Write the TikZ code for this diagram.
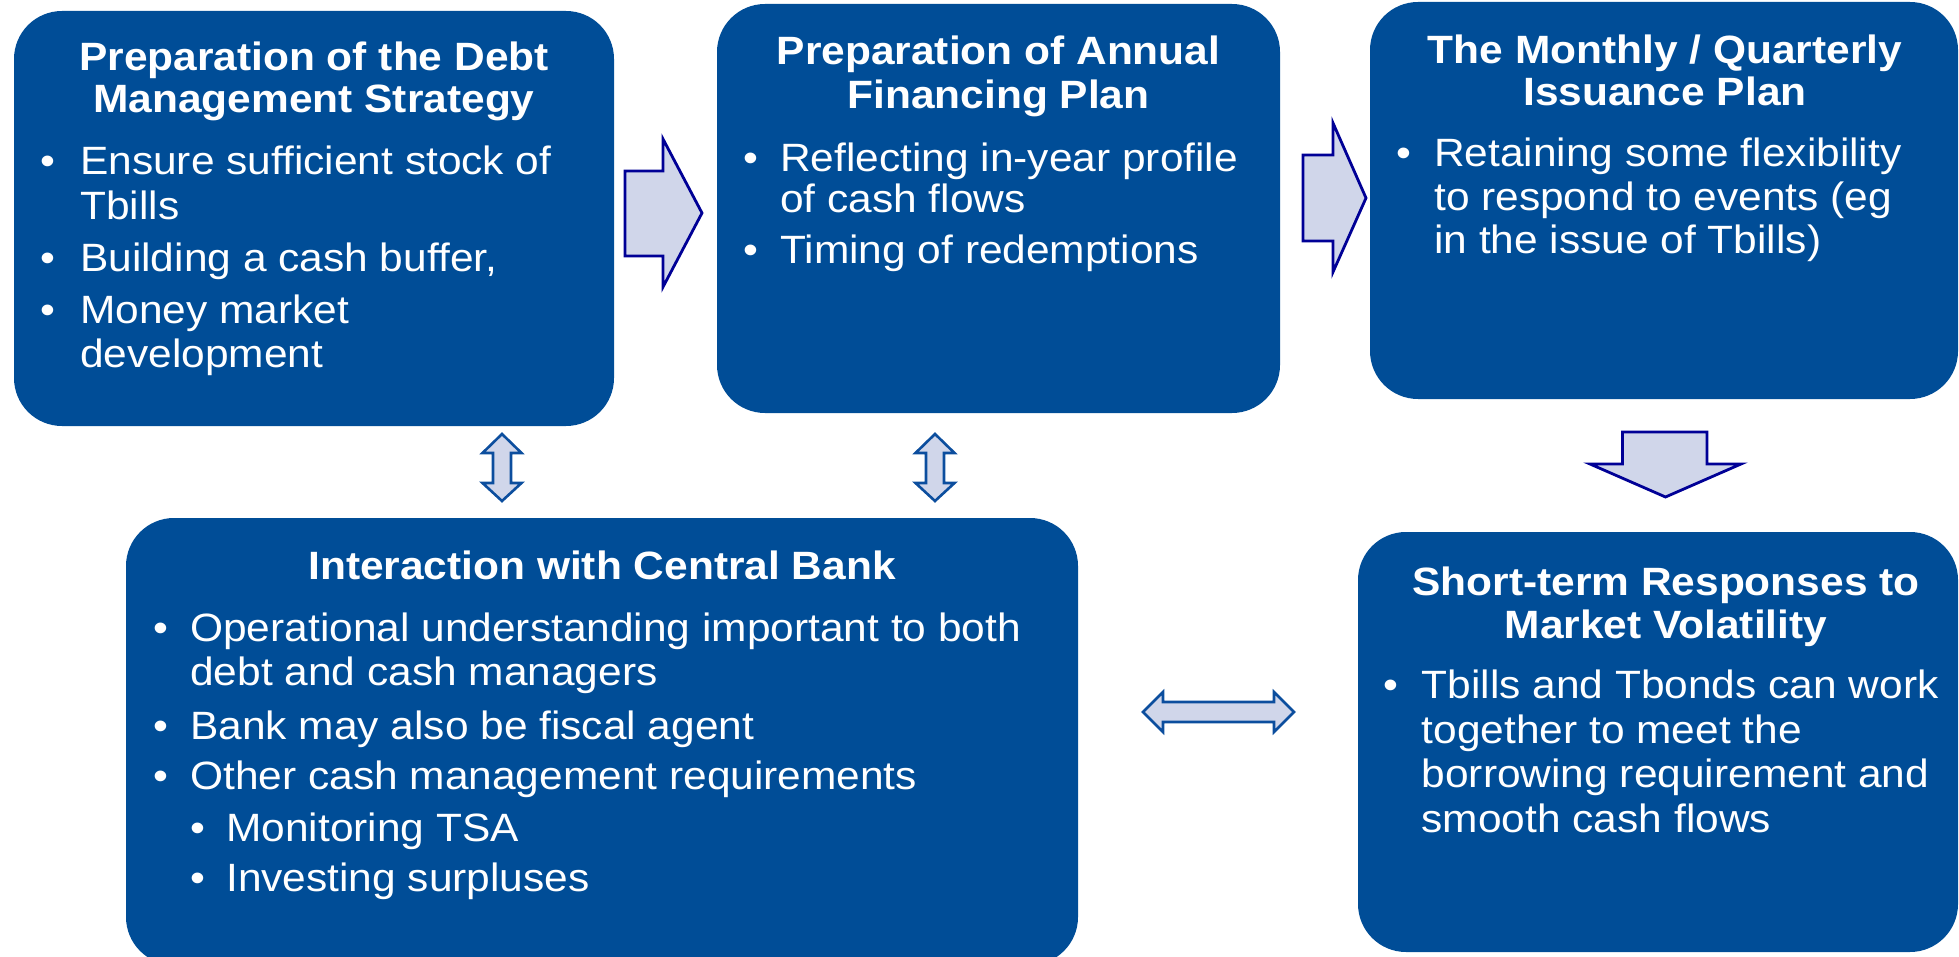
\documentclass[tikz,border=0pt]{standalone}
\usepackage{fontspec}
\setmainfont{Liberation Sans}[FakeStretch=1.075]
\definecolor{boxblue}{RGB}{0,77,151}
\definecolor{navyline}{RGB}{0,0,150}
\definecolor{dblline}{RGB}{12,78,158}
\definecolor{arrowfill}{RGB}{208,214,234}
\newcommand\fsz{\fontsize{39.5pt}{44pt}\selectfont}
\tikzset{
  box/.style={fill=boxblue, draw=none, rounded corners=48pt, inner sep=0pt, anchor=center},
  ttl/.style={font=\fsz\bfseries, text=white, anchor=base, inner sep=0pt},
  txt/.style={font=\fsz, text=white, anchor=base west, inner sep=0pt},
  bul/.style={font=\fsz, text=white, anchor=base, inner sep=0pt},
  blockarrow/.style={fill=arrowfill, draw=navyline, line width=2.8pt, line join=miter},
  dblarrow/.style={fill=arrowfill, draw=dblline, line width=2.6pt, line join=miter}
}
\begin{document}
\begin{tikzpicture}[x=1pt,y=-1pt]
\useasboundingbox (0,0) rectangle (1959,957);
% boxes
\node[box, minimum width=600pt, minimum height=415pt] (b1) at (314,218.5) {};
\node[box, minimum width=563pt, minimum height=409pt] (b2) at (998.5,208.5) {};
\node[box, minimum width=588pt, minimum height=397pt] (b3) at (1664,200.5) {};
\node[box, minimum width=952pt, minimum height=447pt] (b4) at (602,741.5) {};
\node[box, minimum width=600pt, minimum height=420pt] (b5) at (1658,742) {};

% box 1 text
\node[ttl] (t1a) at (314,71) {Preparation of the Debt};
\node[ttl] (t1b) at (314,113) {Management Strategy};
\node[bul] (d1a) at (48,175) {•};
\node[txt] (l1a) at (80,175) {Ensure sufficient stock of};
\node[txt] (l1b) at (80,220) {Tbills};
\node[bul] (d1b) at (48,272) {•};
\node[txt] (l1c) at (80,272) {Building a cash buffer,};
\node[bul] (d1c) at (48,324) {•};
\node[txt] (l1d) at (80,324) {Money market};
\node[txt] (l1e) at (80,367) {development};

% box 2 text
\node[ttl] (t2a) at (998.5,65) {Preparation of Annual};
\node[ttl] (t2b) at (998.5,109) {Financing Plan};
\node[bul] (d2a) at (750.5,171.5) {•};
\node[txt] (l2a) at (780,171.5) {Reflecting in-year profile};
\node[txt] (l2b) at (780,213) {of cash flows};
\node[bul] (d2b) at (750.5,263.5) {•};
\node[txt] (l2c) at (780,263.5) {Timing of redemptions};

% box 3 text
\node[ttl] (t3a) at (1665,63.5) {The Monthly / Quarterly};
\node[ttl] (t3b) at (1665,106) {Issuance Plan};
\node[bul] (d3a) at (1404,167) {•};
\node[txt] (l3a) at (1434,167) {Retaining some flexibility};
\node[txt] (l3b) at (1434,210.5) {to respond to events (eg};
\node[txt] (l3c) at (1434,254) {in the issue of Tbills)};

% box 4 text
\node[ttl] (t4a) at (602,579) {Interaction with Central Bank};
\node[bul] (d4a) at (160.5,641.5) {•};
\node[txt] (l4a) at (190,641.5) {Operational understanding important to both};
\node[txt] (l4b) at (190,685.5) {debt and cash managers};
\node[bul] (d4b) at (160.5,739) {•};
\node[txt] (l4c) at (190,739) {Bank may also be fiscal agent};
\node[bul] (d4c) at (160.5,789) {•};
\node[txt] (l4d) at (190,789) {Other cash management requirements};
\node[bul] (d4d) at (197.5,841.5) {•};
\node[txt] (l4e) at (226,841.5) {Monitoring TSA};
\node[bul] (d4e) at (197.5,891.5) {•};
\node[txt] (l4f) at (226,891.5) {Investing surpluses};

% box 5 text
\node[ttl] (t5a) at (1666,595.5) {Short-term Responses to};
\node[ttl] (t5b) at (1666,638) {Market Volatility};
\node[bul] (d5a) at (1391,698) {•};
\node[txt] (l5a) at (1421.5,698) {Tbills and Tbonds can work};
\node[txt] (l5b) at (1421.5,743) {together to meet the};
\node[txt] (l5c) at (1421.5,787) {borrowing requirement and};
\node[txt] (l5d) at (1421.5,832) {smooth cash flows};

% arrow anchor points
\coordinate (ra1) at (663.5,213);
\coordinate (ra2) at (1334.5,198);
\coordinate (da1) at (1665.5,464);
\coordinate (va1) at (502,467.5);
\coordinate (va2) at (935,467.5);
\coordinate (ha1) at (1218.5,712);

% right block arrows
\draw[blockarrow, shift={(ra1)}] (-38.5,-42) -- (-0.5,-42) -- (-0.5,-74) -- (38.5,0) -- (-0.5,74) -- (-0.5,43) -- (-38.5,43) -- cycle;
\draw[blockarrow, shift={(ra2)}] (-31.5,-43) -- (-1.5,-43) -- (-1.5,-75) -- (31.5,0) -- (-1.5,74) -- (-1.5,43) -- (-31.5,43) -- cycle;
% down block arrow
\draw[blockarrow, shift={(da1)}] (-43,-32) -- (41.5,-32) -- (41.5,0) -- (75.5,0) -- (0,33) -- (-75.5,0) -- (-43,0) -- cycle;

% vertical double arrows
\draw[dblarrow, shift={(va1)}] (0,-33.5) -- (19.5,-14.5) -- (9,-14.5) -- (9,15.5) -- (19.5,15.5) -- (0,33.5) -- (-19.5,15.5) -- (-9,15.5) -- (-9,-14.5) -- (-19.5,-14.5) -- cycle;
\draw[dblarrow, shift={(va2)}] (0,-33.5) -- (19.5,-14.5) -- (9,-14.5) -- (9,15.5) -- (19.5,15.5) -- (0,33.5) -- (-19.5,15.5) -- (-9,15.5) -- (-9,-14.5) -- (-19.5,-14.5) -- cycle;
% horizontal double arrow
\draw[dblarrow, shift={(ha1)}] (-75.5,0) -- (-55.5,-20) -- (-55.5,-10) -- (55.5,-10) -- (55.5,-20) -- (75.5,0) -- (55.5,20) -- (55.5,10) -- (-55.5,10) -- (-55.5,20) -- cycle;
\end{tikzpicture}
\end{document}
